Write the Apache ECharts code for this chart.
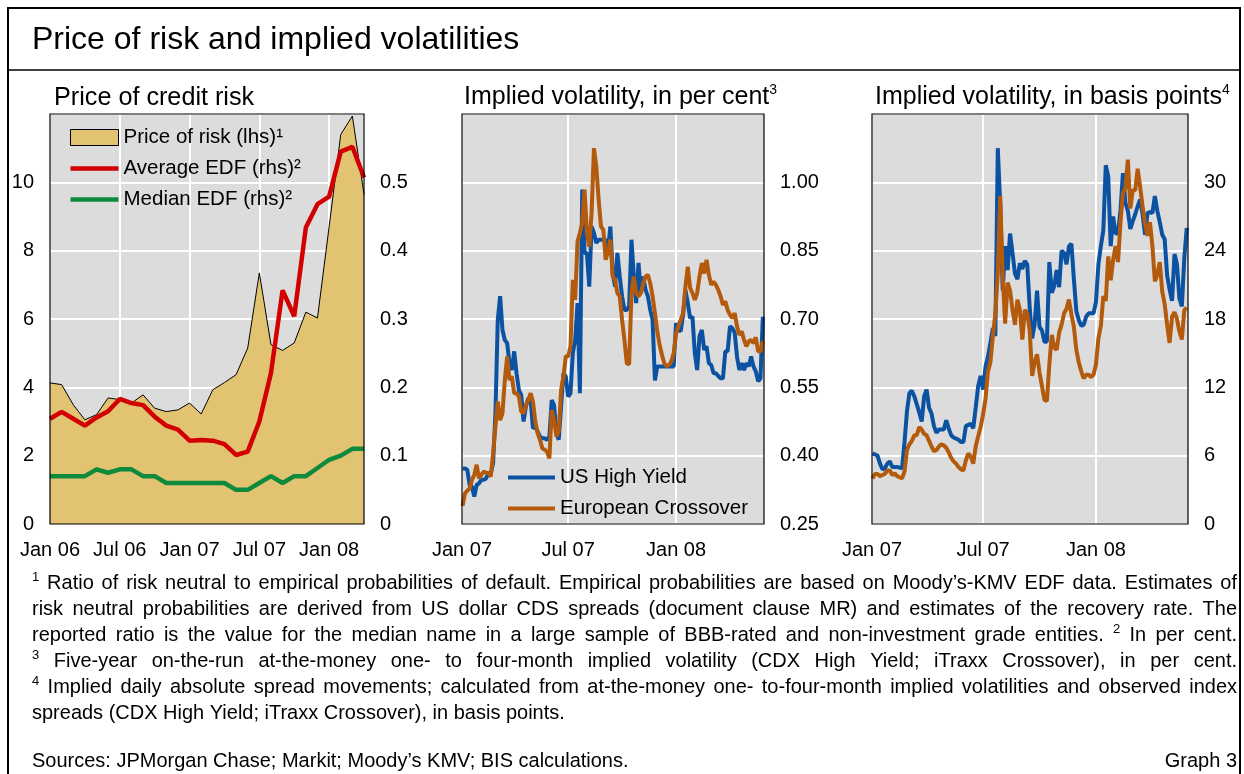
<!DOCTYPE html>
<html><head><meta charset="utf-8">
<script src="https://cdn.jsdelivr.net/npm/echarts@6/dist/echarts.min.js"></script>
<style>html,body{margin:0;padding:0;background:#fff}#c{width:1244px;height:774px}</style>
</head><body><div id="c"></div>
<script>
// ---------------- DATA ----------------
const creditMonths = ['2006-01','2006-02','2006-03','2006-04','2006-05','2006-06','2006-07','2006-08','2006-09','2006-10','2006-11','2006-12',
  '2007-01','2007-02','2007-03','2007-04','2007-05','2007-06','2007-07','2007-08','2007-09','2007-10','2007-11','2007-12',
  '2008-01','2008-02','2008-03','2008-04'];
const creditTickLabels = ['Jan 06','Jul 06','Jan 07','Jul 07','Jan 08'];
const priceOfRisk = [4.13,4.08,3.49,3.05,3.2,3.69,3.64,3.54,3.78,3.39,3.29,3.34,3.54,3.22,3.93,4.14,4.37,5.15,7.35,5.25,5.08,5.3,6.2,6.03,8.7,11.4,11.94,9.65];
const averageEDF = [0.154,0.164,0.154,0.144,0.156,0.165,0.183,0.177,0.174,0.157,0.144,0.138,0.122,0.123,0.122,0.117,0.101,0.106,0.15,0.221,0.342,0.304,0.434,0.468,0.479,0.545,0.552,0.507];
const medianEDF = [0.07,0.07,0.07,0.07,0.08,0.075,0.08,0.08,0.07,0.07,0.06,0.06,0.06,0.06,0.06,0.06,0.05,0.05,0.06,0.07,0.06,0.07,0.07,0.082,0.094,0.10,0.11,0.11];

// days since 1 Jan 2007
const volTickDays = [0,181,365];
const volTickLabels = ['Jan 07','Jul 07','Jan 08'];
const volDays = [1,5,9,13,17,21,25,29,33,37,41,45,49,53,57,61,65,69,73,77,81,85,89,93,97,101,105,109,113,117,121,125,129,133,137,141,145,149,153,157,
  161,165,169,173,177,181,185,189,193,197,201,205,209,213,217,221,225,229,233,237,241,245,249,253,257,261,265,269,273,277,281,285,289,293,297,301,305,309,313,317,
  321,325,329,333,337,341,345,349,353,357,361,365,369,373,377,381,385,389,393,397,401,405,409,413,417,421,425,429,433,437,441,445,449,453,457,461,465,469,473,477,
  481,485,489,493,497,501,505,509,513];
const volPctUSHY = [0.372,0.372,0.369,0.336,0.332,0.31,0.336,0.339,0.347,0.347,
  0.35,0.361,0.361,0.383,0.493,0.698,0.75,0.676,0.654,0.647,
  0.603,0.588,0.629,0.581,0.544,0.533,0.475,0.508,0.526,0.522,
  0.46,0.464,0.453,0.442,0.438,0.438,0.435,0.442,0.522,0.511,
  0.449,0.435,0.508,0.581,0.574,0.53,0.537,0.625,0.654,0.735,
  0.537,0.984,0.845,0.845,0.771,0.903,0.889,0.867,0.874,0.874,
  0.874,0.874,0.852,0.903,0.8,0.771,0.845,0.793,0.75,0.72,
  0.72,0.728,0.874,0.793,0.735,0.823,0.757,0.793,0.764,0.75,
  0.72,0.698,0.565,0.596,0.596,0.596,0.596,0.596,0.596,0.596,
  0.596,0.691,0.676,0.673,0.709,0.764,0.735,0.702,0.705,0.625,
  0.588,0.662,0.676,0.632,0.64,0.603,0.599,0.581,0.581,0.575,
  0.57,0.57,0.629,0.629,0.684,0.68,0.67,0.617,0.588,0.603,
  0.588,0.603,0.596,0.618,0.596,0.585,0.563,0.57,0.705];
const volPctXover = [0.29,0.317,0.323,0.328,0.347,0.358,0.38,0.35,0.358,0.365,
  0.363,0.361,0.354,0.405,0.464,0.519,0.478,0.493,0.566,0.618,
  0.566,0.574,0.537,0.537,0.53,0.497,0.493,0.511,0.522,0.537,
  0.519,0.475,0.449,0.435,0.416,0.413,0.409,0.394,0.50,0.478,
  0.442,0.453,0.544,0.574,0.618,0.618,0.64,0.786,0.742,0.87,
  0.889,0.91,0.984,0.889,0.859,0.933,1.075,1.035,0.962,0.903,
  0.896,0.83,0.848,0.874,0.793,0.786,0.757,0.75,0.698,0.654,
  0.603,0.60,0.757,0.793,0.757,0.75,0.757,0.778,0.793,0.797,
  0.778,0.75,0.713,0.673,0.643,0.621,0.603,0.596,0.599,0.607,
  0.625,0.669,0.684,0.698,0.713,0.771,0.815,0.768,0.757,0.742,
  0.757,0.793,0.823,0.8,0.83,0.797,0.775,0.782,0.775,0.764,
  0.75,0.731,0.739,0.72,0.709,0.702,0.713,0.684,0.665,0.673,
  0.654,0.64,0.651,0.654,0.647,0.66,0.629,0.629,0.651];
const volBpUSHY = [6.2,6.1,6.0,5.3,4.8,4.9,5.3,5.5,5.0,5.0,
  5.0,4.95,4.9,7.2,9.9,11.5,11.7,11.2,10.5,9.8,
  9.0,11.2,11.8,10.2,9.7,8.6,8.0,8.3,8.3,8.3,
  9.1,8.4,7.8,7.6,7.5,7.4,7.2,7.2,8.6,8.7,
  8.8,8.4,10.2,12.1,13.0,11.8,13.8,14.7,15.9,17.2,
  16.5,33.0,28.0,20.5,24.4,22.3,25.5,23.8,22.0,21.5,
  22.9,22.4,23.1,22.8,19.0,16.3,17.5,20.5,17.3,17.0,
  16.0,16.0,23.0,20.3,20.9,22.3,20.8,24.0,23.8,22.8,
  24.4,24.6,21.5,18.7,17.9,17.4,17.5,18.2,18.5,18.5,
  18.5,19.5,22.8,24.4,25.8,31.5,30.5,24.4,27.0,25.5,
  25.5,27.6,30.8,28.2,27.5,25.9,26.6,27.2,27.9,28.5,
  27.2,25.4,27.3,27.4,27.3,28.8,27.5,26.5,25.4,25.0,
  21.8,20.6,19.6,23.7,22.8,19.8,19.1,23.4,26.0];
const volBpXover = [4.0,4.4,4.4,4.2,4.3,4.4,4.7,4.7,4.3,4.45,
  4.2,4.1,4.0,4.6,6.5,7.0,7.3,7.8,7.8,8.5,
  8.3,7.9,7.8,7.3,6.8,6.4,6.5,6.8,7.0,6.9,
  6.7,6.3,5.8,5.5,5.3,5.0,4.8,4.7,5.6,6.2,
  5.9,5.3,6.8,7.7,8.5,9.6,11.0,13.4,14.2,16.5,
  18.5,22.0,28.8,21.7,17.6,21.2,20.5,18.8,17.5,19.7,
  18.8,16.2,18.8,18.5,17.0,13.0,14.2,14.9,13.3,12.1,
  10.9,10.8,14.0,16.6,15.5,15.3,16.8,17.5,18.5,18.9,
  19.7,18.4,17.3,15.3,14.2,13.4,12.8,13.1,13.1,12.9,
  13.1,14.0,16.3,17.4,20.0,19.6,23.5,21.4,23.2,24.4,
  23.0,26.5,29.1,29.5,32.0,27.7,29.3,29.3,31.2,29.6,
  27.9,26.4,25.3,26.5,24.4,21.3,21.9,23.0,20.4,19.3,
  17.5,15.9,18.2,18.6,18.0,16.9,16.2,18.8,19.0];

// ---------------- LAYOUT / STYLE ----------------
const FONT = 'Liberation Sans';
const C_BG = '#DCDCDC', C_TAN = '#E2C372', C_RED = '#D20000', C_GREEN = '#0E8A3C', C_BLUE = '#0B52A3', C_ORANGE = '#B45A0C';
const G = [
  {left:50, top:114, width:314, height:410},
  {left:462, top:114, width:302, height:410},
  {left:872, top:114, width:316, height:410}
];
const AX_FS = 20;
const LINE_ICON_L = 'path://M0,0h48v4.5H0z';
const LINE_ICON_M = 'path://M0,0h47v4H0z';

const chart = echarts.init(document.getElementById('c'), null, {renderer:'canvas'});

function xValAxis(gi, min, max, extra) {
  return Object.assign({
    type:'value', gridIndex:gi, min, max,
    axisLine:{show:false}, axisTick:{show:false},
    splitLine:{show:true, lineStyle:{color:'#fff', width:2}},
    axisLabel:{color:'#000', fontFamily:FONT, fontSize:AX_FS, margin:16}
  }, extra);
}
function yValAxis(gi, pos, min, max, interval, fmt, split) {
  return {
    type:'value', gridIndex:gi, position:pos, min, max, interval,
    axisLine:{show:false}, axisTick:{show:false},
    splitLine:{show:split, lineStyle:{color:'#fff', width:2}},
    axisLabel:{color:'#000', fontFamily:FONT, fontSize:AX_FS, margin:16, showMaxLabel:false, formatter:fmt}
  };
}

const volXAxisExtra = {
  axisTick:{show:false, customValues:volTickDays},
  axisLabel:{color:'#000', fontFamily:FONT, fontSize:AX_FS, margin:16, customValues:volTickDays,
    formatter: v => { const i = volTickDays.indexOf(v); return i >= 0 ? volTickLabels[i] : ''; }}
};

// footnotes (justified word by word)
const FN_FS = 20.5, FN_SX = 0.975, SUP_FS = 13, FN_X0 = 32, FN_X1 = 1237;
const footLines = [
  {y:583, justify:true, text:'^1 Ratio of risk neutral to empirical probabilities of default. Empirical probabilities are based on Moody’s-KMV EDF data. Estimates of'},
  {y:609, justify:true, text:'risk neutral probabilities are derived from US dollar CDS spreads (document clause MR) and estimates of the recovery rate. The'},
  {y:635, justify:true, text:'reported ratio is the value for the median name in a large sample of BBB-rated and non-investment grade entities. ^2 In per cent.'},
  {y:661, justify:true, text:'^3 Five-year on-the-run at-the-money one- to four-month implied volatility (CDX High Yield; iTraxx Crossover), in per cent.'},
  {y:687, justify:true, text:'^4 Implied daily absolute spread movements; calculated from at-the-money one- to-four-month implied volatilities and observed index'},
  {y:713, justify:false, text:'spreads (CDX High Yield; iTraxx Crossover), in basis points.'},
  {y:761, justify:false, text:'Sources: JPMorgan Chase; Markit; Moody’s KMV; BIS calculations.'}
];
const mctx = document.createElement('canvas').getContext('2d');
function tw(s, fs) { mctx.font = fs + 'px "' + FONT + '"'; return mctx.measureText(s).width; }
function footEls() {
  const els = [];
  footLines.forEach(line => {
    const items = line.text.split(' ').map(t => t.startsWith('^')
      ? {s:t.slice(1), sup:true, w:tw(t.slice(1), SUP_FS)}
      : {s:t, sup:false, w:tw(t, FN_FS) * FN_SX});
    const total = items.reduce((a, b) => a + b.w, 0);
    const gap = line.justify ? (FN_X1 - FN_X0 - total) / (items.length - 1) : tw(' ', FN_FS) * FN_SX;
    let x = FN_X0;
    items.forEach(it => {
      els.push({type:'text', x:x, y: it.sup ? line.y - 6 : line.y, scaleX: it.sup ? 1 : FN_SX, z:10,
        style:{text:it.s, fontSize: it.sup ? SUP_FS : FN_FS, fontFamily:FONT, fill:'#000', verticalAlign:'middle'}});
      x += it.w + gap;
    });
  });
  els.push({type:'text', x:FN_X1, y:761, scaleX:FN_SX, z:10,
    style:{text:'Graph 3', fontSize:FN_FS, fontFamily:FONT, fill:'#000', align:'right', verticalAlign:'middle'}});
  return els;
}

const frameEls = [
  {type:'rect', shape:{x:8, y:8, width:1232, height:820}, z:20, style:{fill:'none', stroke:'#000', lineWidth:2}},
  {type:'line', shape:{x1:8, y1:70, x2:1240, y2:70}, z:20, style:{stroke:'#000', lineWidth:1.5}}
].concat(G.map(g => ({type:'rect', shape:{x:g.left, y:g.top, width:g.width, height:g.height}, z:20,
  style:{fill:'none', stroke:'#000', lineWidth:1.2}})));

const titleStyle = (fs) => ({color:'#000', fontFamily:FONT, fontWeight:'normal', fontSize:fs, lineHeight:fs + 4,
  rich:{s:{fontSize:14, fontFamily:FONT, color:'#000', verticalAlign:'top', lineHeight:fs + 4}}});

const option = {
  animation:false,
  backgroundColor:'#fff',
  title:[
    {text:'Price of risk and implied volatilities', left:32, top:22, padding:0, textStyle:titleStyle(32)},
    {text:'Price of credit risk', left:54, top:83, padding:0, textStyle:titleStyle(25.2)},
    {text:'Implied volatility, in per cent{s|3}', left:464, top:83, padding:0, textStyle:titleStyle(25)},
    {text:'Implied volatility, in basis points{s|4}', left:875, top:83, padding:0, textStyle:titleStyle(25)}
  ],
  grid: G.map(g => Object.assign({show:true, backgroundColor:C_BG, borderWidth:0, containLabel:false, outerBoundsMode:'none'}, g)),
  legend:[
    {left:70, top:127, orient:'vertical', itemWidth:48, itemHeight:16, itemGap:10, padding:0,
      textStyle:{color:'#000', fontFamily:FONT, fontSize:20.5, lineHeight:20},
      data:[
        {name:'Price of risk (lhs)¹', icon:'rect', itemStyle:{color:C_TAN, borderColor:'#000', borderWidth:1}},
        {name:'Average EDF (rhs)²', icon:LINE_ICON_L, itemStyle:{color:C_RED}},
        {name:'Median EDF (rhs)²', icon:LINE_ICON_L, itemStyle:{color:C_GREEN}}
      ]},
    {left:508, top:467, orient:'vertical', itemWidth:47, itemHeight:12, itemGap:10, padding:0,
      textStyle:{color:'#000', fontFamily:FONT, fontSize:20.5, lineHeight:20},
      data:[
        {name:'US High Yield', icon:LINE_ICON_M, itemStyle:{color:C_BLUE}},
        {name:'European Crossover', icon:LINE_ICON_M, itemStyle:{color:C_ORANGE}}
      ]}
  ],
  xAxis:[
    xValAxis(0, 0, creditMonths.length - 1, {interval:6,
      axisLabel:{color:'#000', fontFamily:FONT, fontSize:AX_FS, margin:16, showMaxLabel:false,
        formatter: v => (v % 6 === 0 && creditTickLabels[v / 6]) ? creditTickLabels[v / 6] : ''}}),
    xValAxis(1, 0, 515, volXAxisExtra),
    xValAxis(2, 0, 515, volXAxisExtra)
  ],
  yAxis:[
    yValAxis(0, 'left', 0, 12, 2, v => String(v), true),
    yValAxis(0, 'right', 0, 0.6, 0.1, v => v === 0 ? '0' : v.toFixed(1), false),
    yValAxis(1, 'right', 0.25, 1.15, 0.15, v => v.toFixed(2), true),
    yValAxis(2, 'right', 0, 36, 6, v => String(Math.round(v)), true)
  ],
  series:[
    {name:'Price of risk (lhs)¹', type:'line', xAxisIndex:0, yAxisIndex:0, symbol:'none', z:2,
      lineStyle:{color:'#000', width:1}, itemStyle:{color:C_TAN}, areaStyle:{color:C_TAN, opacity:1},
      data: creditMonths.map((m, i) => [i, priceOfRisk[i]])},
    {name:'Average EDF (rhs)²', type:'line', xAxisIndex:0, yAxisIndex:1, symbol:'none', z:3,
      lineStyle:{color:C_RED, width:4.5}, itemStyle:{color:C_RED},
      data: creditMonths.map((m, i) => [i, averageEDF[i]])},
    {name:'Median EDF (rhs)²', type:'line', xAxisIndex:0, yAxisIndex:1, symbol:'none', z:3,
      lineStyle:{color:C_GREEN, width:4.5}, itemStyle:{color:C_GREEN},
      data: creditMonths.map((m, i) => [i, medianEDF[i]])},
    {name:'US High Yield', type:'line', xAxisIndex:1, yAxisIndex:2, symbol:'none', z:3,
      lineStyle:{color:C_BLUE, width:4}, itemStyle:{color:C_BLUE},
      data: volDays.map((d, i) => [d, volPctUSHY[i]])},
    {name:'European Crossover', type:'line', xAxisIndex:1, yAxisIndex:2, symbol:'none', z:4,
      lineStyle:{color:C_ORANGE, width:4}, itemStyle:{color:C_ORANGE},
      data: volDays.map((d, i) => [d, volPctXover[i]])},
    {name:'US High Yield', type:'line', xAxisIndex:2, yAxisIndex:3, symbol:'none', z:3,
      lineStyle:{color:C_BLUE, width:4}, itemStyle:{color:C_BLUE},
      data: volDays.map((d, i) => [d, volBpUSHY[i]])},
    {name:'European Crossover', type:'line', xAxisIndex:2, yAxisIndex:3, symbol:'none', z:4,
      lineStyle:{color:C_ORANGE, width:4}, itemStyle:{color:C_ORANGE},
      data: volDays.map((d, i) => [d, volBpXover[i]])}
  ],
  graphic: {elements: frameEls.concat(footEls())}
};
chart.setOption(option);
</script>
</body></html>
